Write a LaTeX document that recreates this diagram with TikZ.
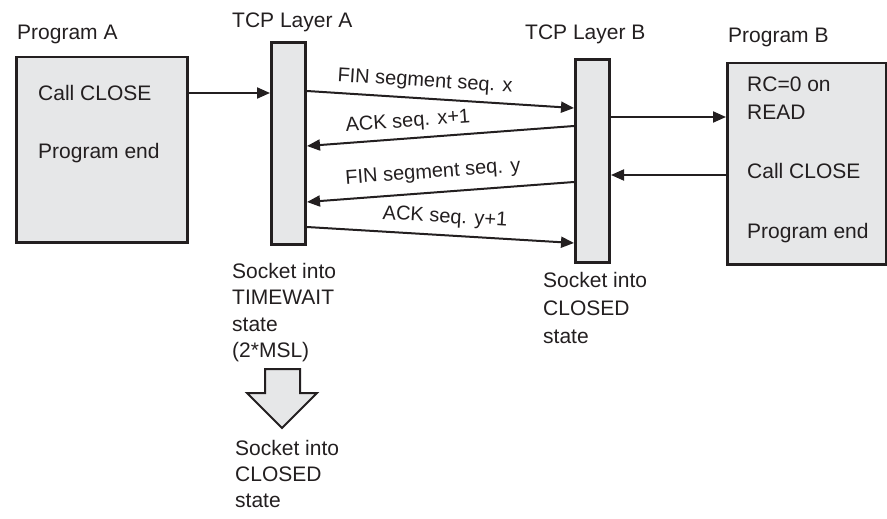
\documentclass[tikz,border=0pt]{standalone}
\usepackage{fontspec}
\setmainfont{Liberation Sans}
\usetikzlibrary{arrows.meta}
\definecolor{boxfill}{HTML}{E6E7E8}
\definecolor{ink}{HTML}{231F20}
\tikzset{
  progbox/.style={draw=ink, fill=boxfill, line width=2.5pt, anchor=north west, inner sep=0pt},
  barbox/.style={draw=ink, fill=boxfill, line width=3pt, anchor=north west, inner sep=0pt, minimum width=34pt},
  txt/.style={anchor=base west, inner sep=0pt, text=ink, font=\fontsize{21}{21}\selectfont},
  lbl/.style={inner sep=0pt, text=ink, font=\fontsize{20}{20}\selectfont},
  conn/.style={draw=ink, line width=2pt, -{Triangle[length=13pt,width=11pt]}},
}
\begin{document}
\begin{tikzpicture}[x=1pt,y=-1pt]
\useasboundingbox (0,0) rectangle (887,519);
% boxes
\node[progbox, minimum width=171pt, minimum height=185pt] (pa) at (15,56) {};
\node[barbox, minimum height=202pt] (ba) at (270,41) {};
\node[barbox, minimum height=203pt] (bb) at (574,58) {};
\node[progbox, minimum width=159pt, minimum height=201pt] (pb) at (726,62) {};
% titles
\node[txt] (tpa) at (17,40) {Program A};
\node[txt] (tba) at (232,28) {TCP Layer A};
\node[txt] (tbb) at (525,40) {TCP Layer B};
\node[txt] (tpb) at (728,43) {Program B};
% texts in program A
\node[txt] (pa1) at (38,100) {Call CLOSE};
\node[txt] (pa2) at (38,158) {Program end};
% texts in program B
\node[txt] (pb1) at (747,92) {RC=0 on};
\node[txt] (pb2) at (747,120) {READ};
\node[txt] (pb3) at (747,178) {Call CLOSE};
\node[txt] (pb4) at (747,238) {Program end};
% socket texts
\node[txt] (sa1) at (232,278) {Socket into};
\node[txt] (sa2) at (232,304.5) {TIMEWAIT};
\node[txt] (sa3) at (232,331) {state};
\node[txt] (sa4) at (232,357.5) {(2*MSL)};
\node[txt] (sc1) at (235,455) {Socket into};
\node[txt] (sc2) at (235,481) {CLOSED};
\node[txt] (sc3) at (235,507) {state};
\node[txt] (sb1) at (543,287) {Socket into};
\node[txt] (sb2) at (543,315) {CLOSED};
\node[txt] (sb3) at (543,343) {state};
% horizontal connectors
\draw[conn] (pa.east |- 0,93) -- (ba.west |- 0,93);
\draw[conn] (bb.east |- 0,117) -- (pb.west |- 0,117);
\draw[conn] (pb.west |- 0,175) -- (bb.east |- 0,175);
% segment arrows
\draw[conn] (ba.east |- 0,91) -- (bb.west |- 0,108);
\draw[conn] (bb.west |- 0,126) -- (ba.east |- 0,146);
\draw[conn] (bb.west |- 0,182) -- (ba.east |- 0,202);
\draw[conn] (ba.east |- 0,227) -- (bb.west |- 0,243);
\node[lbl, rotate=-3.6] (l1) at (425,82) {FIN segment seq. x};
\node[lbl, rotate=4.2] (l2) at (408,122) {ACK seq. x+1};
\node[lbl, rotate=4.2] (l3) at (433,173) {FIN segment seq. y};
\node[lbl, rotate=-3.4] (l4) at (445,218) {ACK seq. y+1};
% block arrow
\draw[draw=ink, fill=boxfill, line width=2pt, line join=miter]
  (265,369) -- (300,369) -- (300,393) -- (317,393) -- (282,428) -- (247,393) -- (265,393) -- cycle;
\end{tikzpicture}
\end{document}
